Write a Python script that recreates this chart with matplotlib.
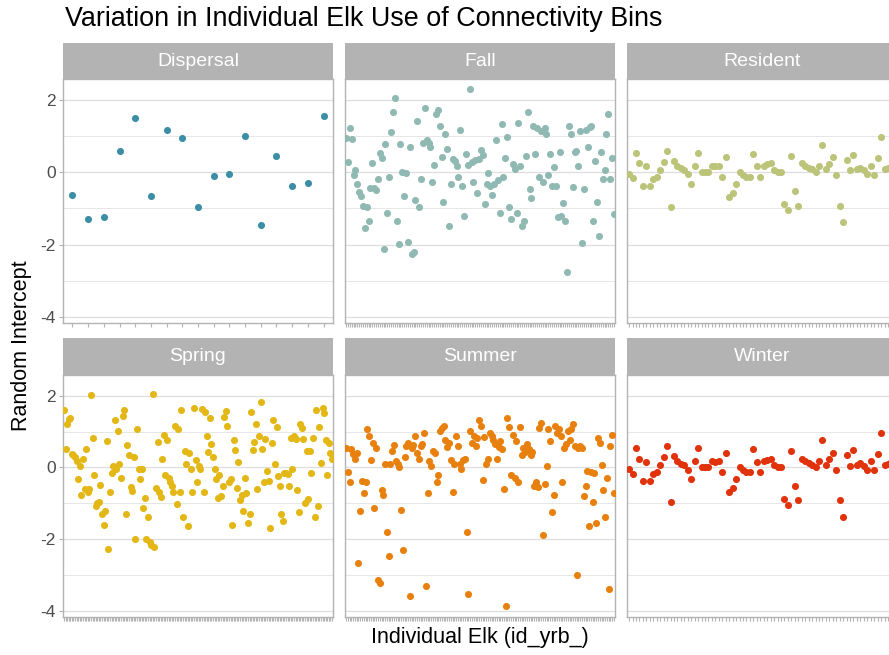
import matplotlib.pyplot as plt
import numpy as np

plt.rcParams['font.family'] = ['Liberation Sans', 'DejaVu Sans']
plt.rcParams['axes.unicode_minus'] = False

# random intercept per individual elk, read left to right in each facet
dispersal = [-0.63, -1.30, -1.25, 0.59, 1.49, -0.67, 1.17, 0.96, -0.97, -0.09,
             -0.05, 1.00, -1.47, 0.46, -0.38, -0.30, 1.55]

fall = [0.94, 0.29, 1.22, 0.92, -0.07, 0.06, -0.32, -0.55, -0.67, -0.92,
        -1.55, -0.95, -1.34, -0.44, 0.25, -0.44, -0.49, -0.19, 0.53, 0.39,
        -2.13, 0.78, -1.12, -0.12, 1.10, 1.68, 2.05, -1.36, -1.99, 0.79,
        0.00, -0.67, -0.03, -1.92, 0.71, -2.26, -2.21, -0.76, 1.42, -0.97,
        -0.19, 0.80, 1.77, 0.89, 0.80, 0.71, -0.26, 0.21, 1.61, 1.72,
        1.29, 0.43, -0.81, 1.05, 0.64, -1.50, -0.33, 0.36, 0.32, 0.16,
        -0.12, 1.17, -0.38, -1.20, 0.50, 0.20, 2.29, 0.29, -0.26, 0.34,
        -0.58, 0.36, 0.62, 0.48, -0.88, -0.32, -0.01, -0.37, -0.63, -0.32,
        0.89, -0.21, -1.12, 1.33, -0.12, 0.39, 0.98, -0.95, -1.30, 0.23,
        0.08, -1.12, 1.37, 0.16, -1.50, -1.36, 0.46, 1.68, -0.46, -0.72,
        1.29, 0.51, 1.22, -0.14, 1.15, -0.26, 1.22, 1.06, -0.07, 0.51,
        -0.37, 0.14, -0.37, -1.24, 0.55, -1.20, -0.86, -1.36, -2.75, 1.29,
        1.05, -0.40, 0.55, 0.59, 0.18, 1.15, -1.96, -0.46, 1.17, 0.71,
        1.24, 1.29, -1.36, 0.32, -0.83, -1.75, 0.55, -0.19, 0.06, 1.05,
        1.60, -0.19, 0.39, -1.16]

resident = [-0.05, -0.17, 0.54, 0.25, -0.38, 0.16, -0.37, -0.19, -0.12, 0.06,
            0.29, 0.60, -0.95, 0.32, 0.18, 0.11, 0.06, -0.06, -0.32, 0.18,
            0.54, 0.00, 0.02, 0.00, 0.18, 0.16, 0.18, -0.12, 0.41, -0.69,
            -0.56, -0.32, 0.00, -0.07, -0.12, -0.12, 0.51, 0.16, -0.12, 0.18,
            0.22, 0.25, 0.06, 0.02, 0.00, -0.88, -1.04, 0.46, -0.53, -0.92,
            0.25, 0.18, 0.13, 0.08, 0.02, 0.18, 0.76, 0.08, 0.23, 0.41,
            -0.07, -0.92, -1.38, 0.34, 0.05, 0.48, 0.08, 0.13, 0.05, -0.06,
            0.18, -0.07, 0.39, 0.97, 0.08, 0.11, 0.15, 0.05]

spring = [1.59, 0.51, 1.20, 1.34, 1.38, 0.37, 0.34, 0.28, 0.18, -0.32,
          0.05, -0.78, 0.23, -0.60, 0.51, -0.67, -0.60, 2.01, 0.83, -0.20,
          -1.06, -0.99, -0.97, -0.49, -1.29, -1.59, -1.20, 0.74, -2.26, -0.69,
          -0.14, 0.05, 1.32, -0.05, 1.03, 0.09, -0.28, 1.45, 1.61, -1.29,
          0.63, 0.34, -0.55, -0.65, 0.28, -2.00, 1.08, -0.05, -0.32, -0.05,
          -1.13, -0.85, -2.00, -1.38, -2.07, -2.15, 2.05, -2.21, -0.58, 0.71,
          -0.69, -0.83, 0.25, 0.92, -0.20, 0.78, -0.30, -0.41, -0.51, -0.69,
          1.17, -1.01, 1.06, -0.67, 1.59, -1.38, 0.46, 0.09, -1.63, 0.41,
          -0.05, -0.67, 1.66, 0.20, -0.41, 0.05, -0.05, 1.63, -0.67, 1.54,
          0.89, 0.43, 1.38, 0.65, 0.29, -0.05, -0.32, -0.86, -0.21, -0.80,
          -0.51, 1.41, 1.57, 1.15, -0.41, -0.32, -1.59, 0.78, 0.49, -0.58,
          0.16, -0.92, -0.78, -1.20, -0.28, -0.72, -1.54, -1.29, 1.54, 0.49,
          0.71, 1.20, -0.60, 0.88, 1.82, 0.51, -0.41, 0.80, -0.09, -0.37,
          -1.69, 0.67, 1.32, 0.09, 1.13, -0.23, -0.53, -1.29, -1.50, -0.14,
          -0.16, -0.18, -0.51, 0.83, -0.03, 0.89, 0.80, -0.63, -1.24, 1.20,
          1.11, 0.80, -0.99, 0.46, -0.88, 0.46, -0.16, 0.83, -1.38, 1.59,
          -1.08, 1.13, 0.12, 1.66, 1.52, 0.78, -0.20, 0.67, 0.40, 0.23]

summer = [0.55, -0.12, -0.41, 0.51, 0.37, 0.25, 0.41, -2.67, -1.20, -0.37,
          -0.71, -0.41, 1.06, 0.89, 0.21, 0.69, -1.13, 0.55, -3.13, -3.23,
          -0.63, -0.78, 0.09, -1.80, -2.47, 0.09, 0.46, 0.62, 0.18, 0.09,
          0.00, -1.18, -2.30, 0.28, 0.60, 0.69, -3.58, 0.53, 0.63, 0.88,
          0.40, 0.23, 0.60, 0.65, 0.97, -3.30, -0.71, 0.18, 0.05, 0.46,
          0.41, -0.41, -0.21, 1.01, 1.11, 1.15, 0.78, 0.58, 0.69, 0.20,
          -0.67, 0.09, 0.89, 0.60, 0.09, -0.03, 0.21, 0.23, -1.80, -3.53,
          1.01, 0.69, 0.89, 0.60, 0.83, 1.32, 1.17, -0.34, 0.86, 0.09,
          0.23, 0.97, 0.89, 0.78, 0.65, 0.23, 0.58, 0.74, 0.51, -0.60,
          -3.85, 1.38, 1.13, -0.21, 0.92, -0.28, 0.74, -0.41, 1.13, 0.34,
          0.55, 0.43, 0.65, 0.51, 0.34, 0.43, -0.51, -0.40, -0.55, 1.11,
          1.24, -1.89, -0.46, 0.03, 1.06, 0.74, -1.23, -0.76, 1.15, 0.97,
          1.08, 0.88, -0.41, 0.55, 0.65, 1.03, 0.78, 1.08, 1.20, 0.60,
          -3.01, 0.55, 0.60, 0.55, -0.80, -0.51, -0.09, -1.64, -0.12, -0.95,
          -0.14, -1.54, 0.83, 0.67, 0.06, -0.63, -1.38, -0.29, -3.38, 0.60,
          0.92, -0.71]

# the Winter facet shows the same intercepts as Resident
winter = list(resident)

facet_names = ['Dispersal', 'Fall', 'Resident', 'Spring', 'Summer', 'Winter']
facet_values = [dispersal, fall, resident, spring, summer, winter]
facet_colors = ['#3b8ea6', '#8fb9b2', '#bcc47a', '#e3b816', '#e8800e', '#e0330c']

W, H = 889, 655
fig = plt.figure(figsize=(W / 100, H / 100), dpi=100)


def frac_box(x0, y0, x1, y1):
    # pixel box (top-left origin) -> figure fraction rect
    return [x0 / W, 1 - y1 / H, (x1 - x0) / W, (y1 - y0) / H]


col_left = [63, 345, 627]
panel_w = 270
rows = [(43, 79, 323), (338, 375, 617)]  # strip top, panel top, panel bottom

for i, (name, vals, col) in enumerate(zip(facet_names, facet_values, facet_colors)):
    r, c = divmod(i, 3)
    st, pt, pb = rows[r]
    x0 = col_left[c]

    strip = fig.add_axes(frac_box(x0, st, x0 + panel_w, pt))
    strip.set_facecolor('#b3b3b3')
    strip.set_xticks([])
    strip.set_yticks([])
    for s in strip.spines.values():
        s.set_visible(False)
    strip.text(0.5, 0.5, name, color='white', fontsize=14,
               ha='center', va='center', transform=strip.transAxes)

    ax = fig.add_axes(frac_box(x0, pt, x0 + panel_w, pb))
    n = len(vals)
    xs = np.arange(1, n + 1)
    for yv in [-4, -2, 0, 2]:
        ax.axhline(yv, color='#dedede', linewidth=0.9, zorder=0)
    for yv in [-3, -1, 1]:
        ax.axhline(yv, color='#e6e6e6', linewidth=0.7, zorder=0)
    ax.scatter(xs, vals, s=26, color=col, linewidths=0, zorder=3)

    ax.set_xlim(0.4, n + 0.6)
    ax.set_ylim(-4.17, 2.58)
    ax.set_xticks(xs)
    ax.set_xticklabels([])
    ax.set_yticks([-4, -2, 0, 2])
    for s in ax.spines.values():
        s.set_color('#b3b3b3')
        s.set_linewidth(1.0)
    ax.tick_params(axis='x', length=3, width=0.8, color='#b3b3b3')
    if c == 0:
        ax.tick_params(axis='y', length=3, width=0.8, color='#b3b3b3',
                       labelsize=12.5, labelcolor='#4d4d4d', pad=2)
    else:
        ax.tick_params(axis='y', length=0, labelleft=False)

fig.text(65 / W, 1 - 19 / H, 'Variation in Individual Elk Use of Connectivity Bins',
         fontsize=19.4, ha='left', va='center', color='black')
fig.text(22 / W, 1 - 346 / H, 'Random Intercept', fontsize=15.5, rotation=90,
         ha='center', va='center')
fig.text(480 / W, 1 - 637 / H, 'Individual Elk (id_yrb_)', fontsize=15.5,
         ha='center', va='center')

fig.savefig('out.png', dpi=100)
